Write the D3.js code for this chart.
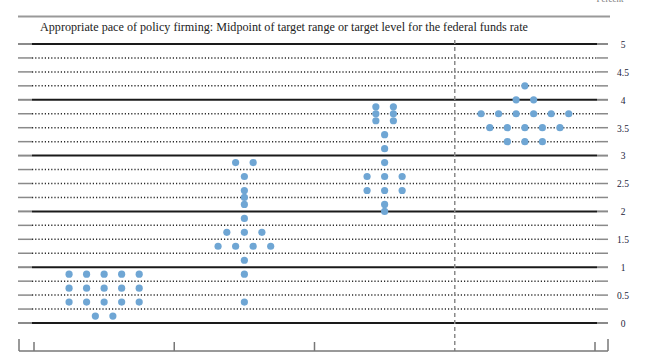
<!DOCTYPE html>
<html><head><meta charset="utf-8">
<script src="https://cdn.jsdelivr.net/npm/d3@7"></script>
<style>body{margin:0;background:#fff}svg{display:block}</style>
</head><body><svg id="c" width="663" height="362"></svg>
<script>
const categories = ["2015", "2016", "2017", "Longer run"];
// [value, number of participants]
const dots2015 = [[0.875,5],[0.625,5],[0.375,5],[0.125,2]];
const dots2016 = [[2.875,2],[2.625,1],[2.375,1],[2.25,1],[2.125,1],[1.875,1],[1.625,3],[1.375,4],[1.125,1],[0.875,1],[0.375,1]];
const dots2017 = [[3.875,2],[3.75,2],[3.625,2],[3.375,1],[3.125,1],[2.875,1],[2.625,3],[2.375,3],[2.125,1],[2.0,1]];
const dotsLonger = [[4.25,1],[4.0,2],[3.75,6],[3.5,5],[3.25,3]];
const yTickValues = [0,0.5,1,1.5,2,2.5,3,3.5,4,4.5,5];
const yTickLabels = ["0","0.5","1","1.5","2","2.5","3","3.5","4","4.5","5"];
const title = "Appropriate pace of policy firming: Midpoint of target range or target level for the federal funds rate";
const unitLabel = "Percent";

const svg = d3.select("#c");
const y = d3.scaleLinear().domain([0,5]).range([323,44]);
const x = d3.scaleBand().domain(categories).range([34,595]).padding(0);
const left = 18, right = 608, innerL = 32, innerR = 597;

// unit label, clipped at top as in the reference
svg.append("text").attr("x",610).attr("y",1.5).attr("text-anchor","middle")
  .attr("font-family","Liberation Serif, serif").attr("font-size",9).attr("fill","#777").text(unitLabel);

// top border
svg.append("line").attr("x1",left).attr("x2",right+2).attr("y1",16.5).attr("y2",16.5)
  .attr("stroke","#999").attr("stroke-width",2);

svg.append("text").attr("x",40).attr("y",31)
  .attr("font-family","Liberation Serif, serif").attr("font-size",11.5)
  .attr("textLength",488).attr("lengthAdjust","spacingAndGlyphs")
  .attr("fill","#222").text(title);

// grid lines
const grid = d3.range(0, 5.001, 0.25);
const g = svg.append("g");
grid.forEach(v => {
  const yy = y(v);
  const major = Math.abs(v - Math.round(v)) < 1e-9;
  g.append("line").attr("x1",left).attr("x2",innerL).attr("y1",yy).attr("y2",yy)
    .attr("stroke","#8a8a8a").attr("stroke-width", major?2:1.5);
  g.append("line").attr("x1",innerR).attr("x2",right).attr("y1",yy).attr("y2",yy)
    .attr("stroke","#8a8a8a").attr("stroke-width", major?2:1.5);
  const l = g.append("line").attr("x1",innerL).attr("x2",innerR).attr("y1",yy).attr("y2",yy)
    .attr("stroke", major?"#1a1a1a":"#2a2a2a").attr("stroke-width", major?2:1.5);
  if(!major) l.attr("stroke-dasharray","1.2,2");
});

// right axis labels
const ax = d3.axisRight(y).tickValues(yTickValues).tickSize(0)
  .tickFormat((d,i)=>yTickLabels[i]);
const axg = svg.append("g").attr("transform","translate(619,0)").call(ax);
axg.select(".domain").remove();
axg.selectAll("text").attr("font-family","Liberation Serif, serif").attr("font-size",9.5)
  .attr("fill","#23233a").attr("x",4).attr("text-anchor","middle").attr("dy","0.35em");

// dashed vertical separator
const sepX = x(categories[3]);
svg.append("line").attr("x1",sepX).attr("x2",sepX).attr("y1",40).attr("y2",351)
  .attr("stroke","#8a8a8a").attr("stroke-width",1.5).attr("stroke-dasharray","4,3");

// bottom axis
const base = 351;
svg.append("line").attr("x1",left+1).attr("x2",right).attr("y1",base).attr("y2",base)
  .attr("stroke","#777").attr("stroke-width",1.5);
const tickXs = [x(categories[0]), x(categories[1]), x(categories[2]), x.range()[1]];
tickXs.forEach(t => svg.append("line").attr("x1",t).attr("x2",t).attr("y1",base-9).attr("y2",base)
  .attr("stroke","#777").attr("stroke-width",1.5));
[left+1, right].forEach(t => svg.append("line").attr("x1",t).attr("x2",t).attr("y1",base-12).attr("y2",base)
  .attr("stroke","#777").attr("stroke-width",1.5));

// dots
const series = [dots2015, dots2016, dots2017, dotsLonger];
const step = x.bandwidth()*0.125;
const pts = [];
series.forEach((s, ci) => {
  const cx = x(categories[ci]) + x.bandwidth()/2;
  s.forEach(([v,n]) => {
    for(let i=0;i<n;i++) pts.push({x: cx + (i-(n-1)/2)*step, y: y(v)});
  });
});
svg.append("g").selectAll("circle").data(pts).join("circle")
  .attr("cx",d=>d.x).attr("cy",d=>d.y).attr("r",3.6).attr("fill","#6fa6d4");
</script></body></html>
